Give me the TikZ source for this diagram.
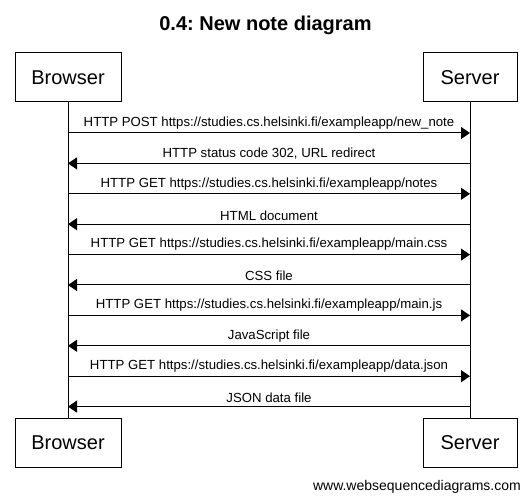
\documentclass[tikz,border=0pt]{standalone}
\usepackage{fontspec}
\setmainfont{Liberation Sans}
\usetikzlibrary{arrows.meta}
\frenchspacing
\begin{document}
\begin{tikzpicture}[x=1pt,y=-1pt,
  actor/.style={draw, line width=1pt, inner sep=0pt, minimum height=49pt,
    font=\fontsize{20}{24}\selectfont},
  life/.style={line width=1pt},
  msg/.style={line width=1pt, -{Triangle[length=9pt,width=12pt]}},
  lbl/.style={midway, anchor=south, inner sep=0pt, yshift=3.5pt,
    font=\fontsize{13.2}{15}\selectfont},
  titletext/.style={anchor=base, inner sep=0pt, font=\fontsize{20}{24}\selectfont\bfseries},
  wmtext/.style={anchor=base east, inner sep=0pt, font=\fontsize{14}{16}\selectfont}]
\useasboundingbox (0,0) rectangle (531,502);
\node[titletext] (title) at (265.5,31) {0.4: New note diagram};
\node[actor, minimum width=106pt] (bt) at (68,77.5) {Browser};
\node[actor, minimum width=94pt] (st) at (470,77.5) {Server};
\node[actor, minimum width=106pt] (bb) at (68,443) {Browser};
\node[actor, minimum width=94pt] (sb) at (470,443) {Server};
\draw[life] (bt.south) -- (bb.north);
\draw[life] (st.south) -- (sb.north);
\foreach \i/\y in {1/133,2/163.4,3/193.8,4/224.2,5/254.6,6/285,7/315.4,8/345.8,9/376.2,10/406.6}{
  \coordinate (b\i) at (bt.south |- 0,\y);
  \coordinate (s\i) at (st.south |- 0,\y);
}
\draw[msg] (b1) -- node[lbl]{HTTP POST https://studies.cs.helsinki.fi/exampleapp/new\_note} (s1);
\draw[msg] (s2) -- node[lbl]{HTTP status code 302, URL redirect} (b2);
\draw[msg] (b3) -- node[lbl]{HTTP GET https://studies.cs.helsinki.fi/exampleapp/notes} (s3);
\draw[msg] (s4) -- node[lbl]{HTML document} (b4);
\draw[msg] (b5) -- node[lbl]{HTTP GET https://studies.cs.helsinki.fi/exampleapp/main.css} (s5);
\draw[msg] (s6) -- node[lbl]{CSS file} (b6);
\draw[msg] (b7) -- node[lbl]{HTTP GET https://studies.cs.helsinki.fi/exampleapp/main.js} (s7);
\draw[msg] (s8) -- node[lbl]{JavaScript file} (b8);
\draw[msg] (b9) -- node[lbl]{HTTP GET https://studies.cs.helsinki.fi/exampleapp/data.json} (s9);
\draw[msg] (s10) -- node[lbl]{JSON data file} (b10);
\node[wmtext] (wm) at (521,491) {www.websequencediagrams.com};
\end{tikzpicture}
\end{document}
